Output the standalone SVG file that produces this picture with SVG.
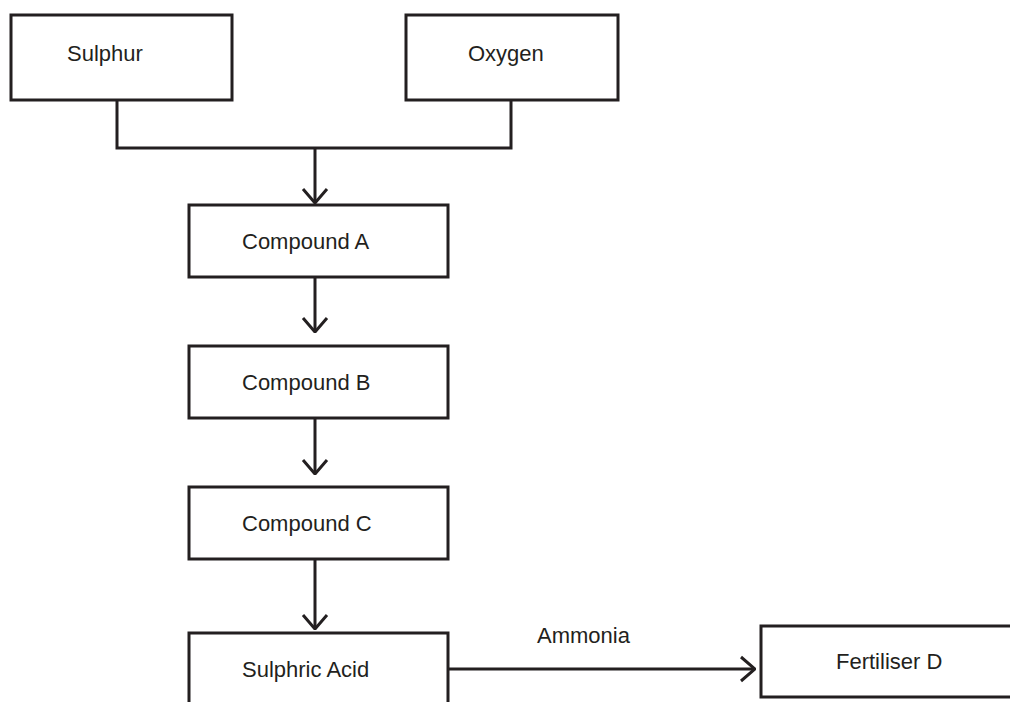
<svg xmlns="http://www.w3.org/2000/svg" width="1010" height="702" viewBox="0 0 1010 702">
<style>
.box{fill:#fff;stroke:#231f20;stroke-width:3}
.lbl{font-family:"Liberation Sans",Arial,sans-serif;font-size:22px;fill:#231f20}
.conn{fill:none;stroke:#231f20;stroke-width:3}
</style>
<defs>
<marker id="arr" viewBox="0 0 16 28" refX="15" refY="14" markerWidth="16" markerHeight="28" markerUnits="userSpaceOnUse" orient="auto">
<path d="M1,2 L15,14 L1,26" fill="none" stroke="#231f20" stroke-width="3"/>
</marker>
</defs>
<rect width="1010" height="702" fill="#fff"/>
<g id="connectors">
<path class="conn" d="M117,100 V148 H511 V100"/>
<path class="conn" d="M315,148 V203" marker-end="url(#arr)"/>
<path class="conn" d="M315,277 V332" marker-end="url(#arr)"/>
<path class="conn" d="M315,418 V474" marker-end="url(#arr)"/>
<path class="conn" d="M315,559 V629" marker-end="url(#arr)"/>
<path class="conn" d="M448,669 H755" marker-end="url(#arr)"/>
<text class="lbl" x="537" y="643">Ammonia</text>
</g>
<g id="sulphur">
<rect class="box" x="11" y="15" width="221" height="85"/>
<text class="lbl" x="67" y="61">Sulphur</text>
</g>
<g id="oxygen">
<rect class="box" x="406" y="15" width="212" height="85"/>
<text class="lbl" x="468" y="61">Oxygen</text>
</g>
<g id="compoundA">
<rect class="box" x="189" y="205" width="259" height="72"/>
<text class="lbl" x="242" y="249">Compound A</text>
</g>
<g id="compoundB">
<rect class="box" x="189" y="346" width="259" height="72"/>
<text class="lbl" x="242" y="390">Compound B</text>
</g>
<g id="compoundC">
<rect class="box" x="189" y="487" width="259" height="72"/>
<text class="lbl" x="242" y="531">Compound C</text>
</g>
<g id="sulphricAcid">
<path class="box" d="M189,710 V633 H448 V710"/>
<text class="lbl" x="242" y="677">Sulphric Acid</text>
</g>
<g id="fertiliserD">
<path class="box" d="M1015,626 H761 V697 H1015"/>
<text class="lbl" x="836" y="669">Fertiliser D</text>
</g>
</svg>
